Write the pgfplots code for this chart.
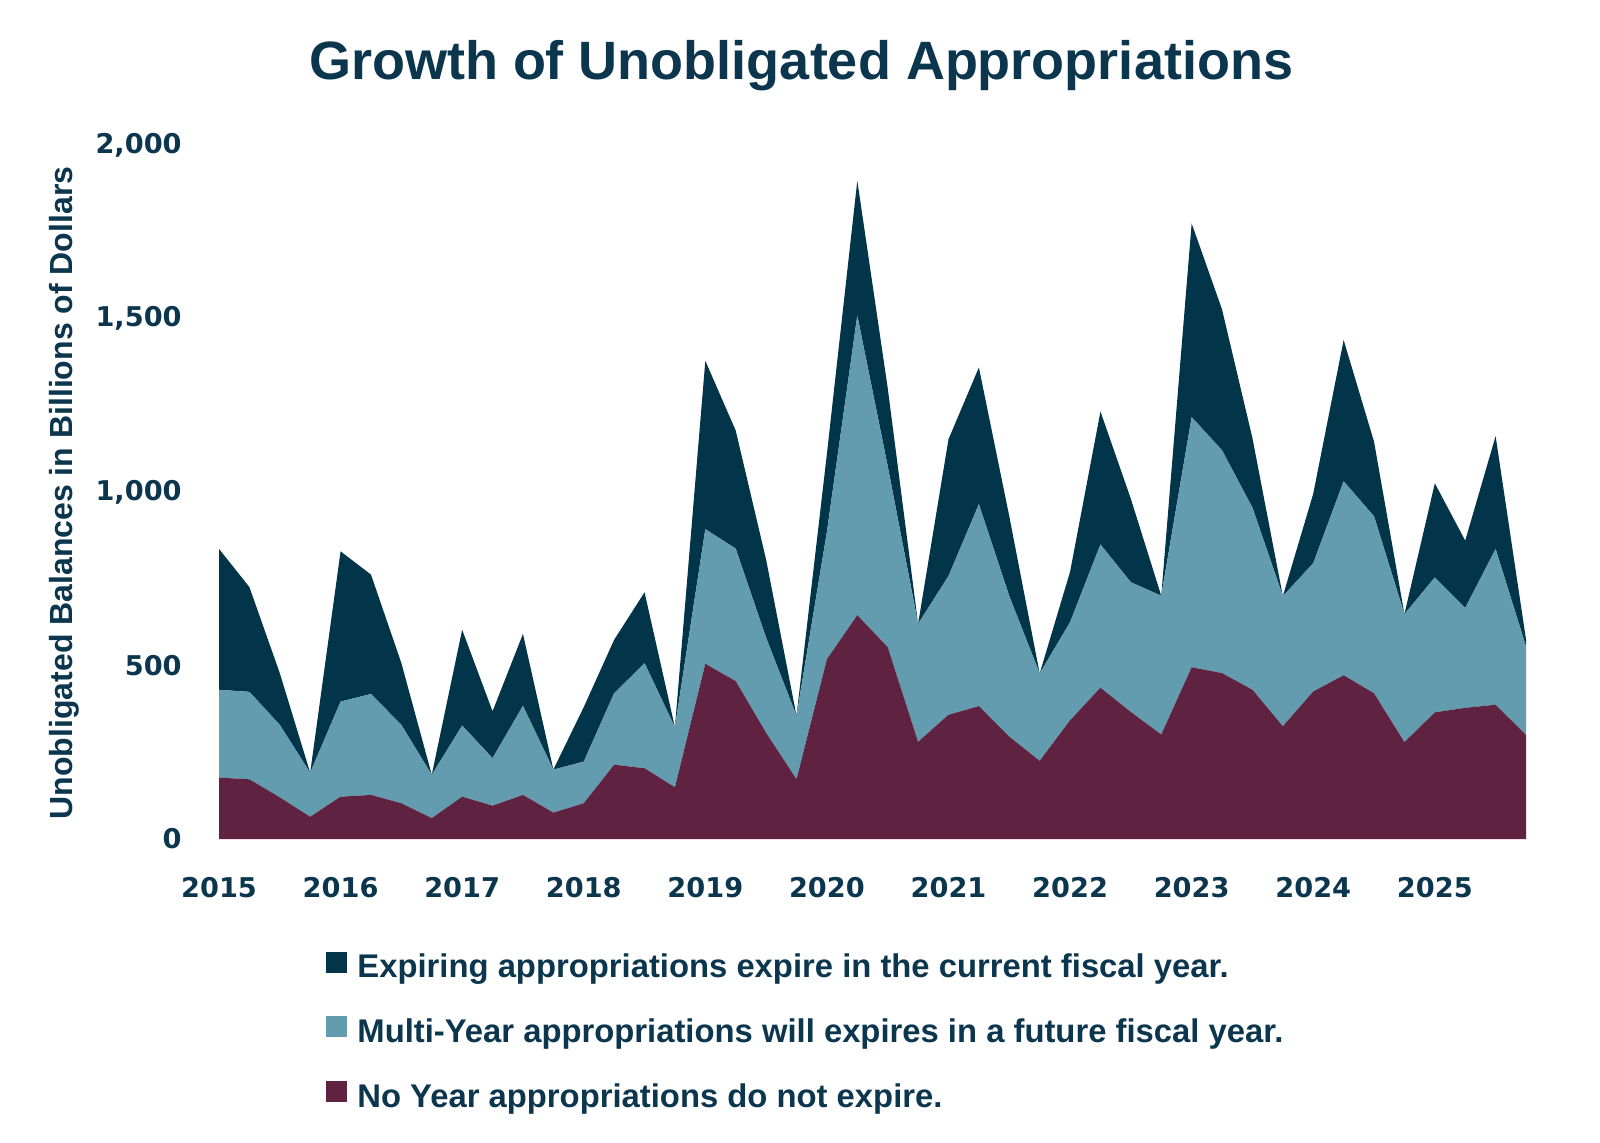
\documentclass[border=0pt]{standalone}
\usepackage{pgfplots}
\pgfplotsset{compat=1.18}
\usepackage{pgfplotstable}
\usepackage{fontspec}
\setmainfont{Liberation Sans}
\newfontfamily\tickfam{DejaVu Sans}
\definecolor{expcol}{HTML}{02344A}
\definecolor{multicol}{HTML}{639BAF}
\definecolor{noyearcol}{HTML}{5F2241}
\definecolor{txtcol}{HTML}{0B364D}

\pgfplotstableread{
k noyear multi expiring
0 177 253 406
1 172 252 302
2 120 209 149
3 64 127 0
4 122 274 433
5 127 291 344
6 103 226 178
7 60 125 0
8 122 205 276
9 96 137 135
10 127 257 207
11 76 124 0
12 103 120 157
13 214 206 154
14 204 303 204
15 149 173 0
16 505 388 485
17 455 382 340
18 306 274 225
19 172 183 0
20 518 367 225
21 645 864 388
22 553 522 225
23 280 340 0
24 358 400 394
25 383 582 394
26 295 405 230
27 225 252 0
28 342 283 145
29 436 413 383
30 366 374 240
31 301 400 0
32 495 721 558
33 478 642 406
34 430 525 200
35 325 375 0
36 425 370 200
37 472 559 407
38 420 510 215
39 279 369 0
40 365 389 271
41 378 288 194
42 387 449 325
43 300 255 20
}\datatable

\begin{document}
\begin{tikzpicture}
\useasboundingbox (0pt,0pt) rectangle (800pt,571pt);
\node[font=\bfseries\fontsize{27}{32}\selectfont, text=txtcol, anchor=center] at (400.5pt,538pt) {Growth of Unobligated Appropriations};
\begin{axis}[
  at={(109.5pt,151.5pt)}, anchor=south west,
  scale only axis, width=653.5pt, height=347pt,
  xmin=0, xmax=43, ymin=0, ymax=2000,
  axis line style={draw=none},
  tick style={draw=none},
  major tick length=0pt,
  xtick={0,4,...,40},
  xticklabels={2015,2016,2017,2018,2019,2020,2021,2022,2023,2024,2025},
  ytick={0,500,1000,1500,2000},
  /pgf/number format/assume math mode=true,
  /pgf/number format/1000 sep={,},
  tick label style={font=\tickfam\bfseries\fontsize{13.6}{16}\selectfont, text=txtcol},
  xticklabel style={anchor=north, inner sep=0pt, yshift=-19pt},
  yticklabel style={anchor=east, inner sep=0pt, xshift=-18.5pt},
  every axis y label/.style={at={(axis description cs:-0.1186,0.4986)}, rotate=90, anchor=center},
  ylabel={Unobligated Balances in Billions of Dollars},
  ylabel style={font=\bfseries\fontsize{16}{19}\selectfont, text=txtcol},
  stack plots=y,
  clip=false,
  reverse legend,
  legend cell align=left,
  legend image code/.code={\fill[#1] (0pt,-2pt) rectangle (10.5pt,8.5pt);},
  legend style={at={(axis description cs:0.0819,-0.162)}, anchor=north west,
    draw=none, fill=none, inner sep=0pt, row sep=16.3pt,
    font=\bfseries\fontsize{16.4}{19}\selectfont, text=txtcol,
    nodes={inner sep=0pt, text height=12pt, text depth=3pt},
    /tikz/every odd column/.append style={column sep=5pt}},
]
\addplot[fill=noyearcol, draw=none] table[x=k, y=noyear] {\datatable} \closedcycle;
\addlegendentry{No Year appropriations do not expire.}
\addplot[fill=multicol, draw=none] table[x=k, y=multi] {\datatable} \closedcycle;
\addlegendentry{Multi-Year appropriations will expires in a future fiscal year.}
\addplot[fill=expcol, draw=none] table[x=k, y=expiring] {\datatable} \closedcycle;
\addlegendentry{Expiring appropriations expire in the current fiscal year.}
\end{axis}
\end{tikzpicture}
\end{document}
